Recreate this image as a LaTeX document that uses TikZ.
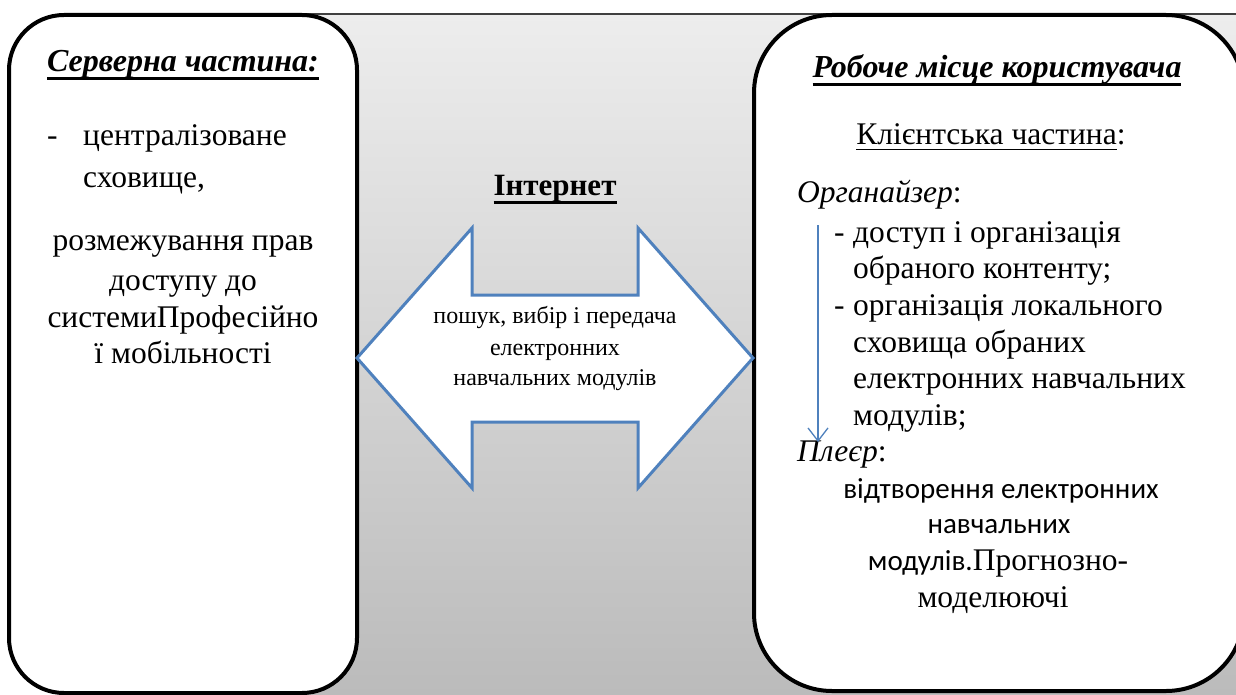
\documentclass[tikz,border=0pt]{standalone}
\usepackage{fontspec}
\setmainfont{Liberation Serif}
\newfontfamily\calibfont{Carlito}
\usetikzlibrary{arrows.meta}
\definecolor{arrblue}{HTML}{4F81BD}
\definecolor{bgtop}{HTML}{EDEDED}
\definecolor{bgbot}{HTML}{BBBBBB}
% underline with a chosen depth and thickness
\newcommand{\ulbar}[3]{{\setbox0\hbox{#3}\rlap{\rule[-#1]{\wd0}{#2}}\box0}}

\begin{document}
\begin{tikzpicture}[x=1pt,y=-1pt,
  panel/.style={draw=black, line width=4pt, fill=white, inner sep=0pt},
  body/.style={font=\fontsize{31.5}{36}\selectfont, inner sep=0pt},
  head/.style={font=\fontsize{32}{36}\selectfont\bfseries\itshape, inner sep=0pt, anchor=base},
  small/.style={font=\fontsize{24}{28}\selectfont, inner sep=0pt, anchor=base},
  sans/.style={font=\fontsize{29}{34}\selectfont\calibfont, inner sep=0pt, anchor=base},
  lw/.style={body, anchor=base west},
  lc/.style={body, anchor=base}]
\useasboundingbox (0,0) rectangle (1236,695);

% grey backdrop with a dark top rule
\shade[top color=bgtop, bottom color=bgbot] (100,14) rectangle (1236,695);
\draw[line width=1.5pt, draw=black!75] (100,14) -- (1236,14);

% the two panels
\node[panel, rounded corners=55pt, minimum width=348pt, minimum height=678pt] (server) at (183,354) {};
\node[panel, rounded corners=78pt, minimum width=490pt, minimum height=676pt] (client) at (999,353) {};

% server side
\node[head] (srvtitle) at (183,72) {\ulbar{8pt}{3pt}{Серверна частина:}};
\node[lw] (srvdash) at (47,146) {-};
\node[lw] (srv1) at (83,146) {централізоване};
\node[lw] (srv2) at (83,188) {сховище,};
\node[lc] (srv3) at (183,250) {розмежування прав};
\node[lc] (srv4) at (183,290) {доступу до};
\node[lc] (srv5) at (183,327) {системиПрофесійно};
\node[lc] (srv6) at (183,363) {ї мобільності};

% internet exchange
\node[font=\fontsize{31}{36}\selectfont\bfseries, inner sep=0pt, anchor=base] (net) at (555,196) {\ulbar{8pt}{3.3pt}{Інтернет}};
\draw[draw=arrblue, line width=3pt, fill=white]
  (357,358) -- (472,228) -- (472,295) -- (638,295) -- (638,228) -- (753,358)
  -- (638,488) -- (638,422) -- (472,422) -- (472,488) -- cycle;
\node[small] (xfer1) at (555,323) {пошук, вибір і передача};
\node[small] (xfer2) at (555,355) {електронних};
\node[small] (xfer3) at (555,385) {навчальних модулів};

% client side
\node[head] (clititle) at (997,78) {\ulbar{8pt}{3pt}{Робоче місце користувача}};
\node[lc] (clipart) at (991,145) {\ulbar{5pt}{1.2pt}{Клієнтська частина}:};
\node[lw] (org) at (797,203) {\textit{Органайзер}:};
\node[lw] (orgdash1) at (834,242) {-};
\node[lw] (org1) at (853,242) {доступ і організація};
\node[lw] (org2) at (853,278) {обраного контенту;};
\node[lw] (orgdash2) at (834,315) {-};
\node[lw] (org3) at (853,315) {організація локального};
\node[lw] (org4) at (853,352) {сховища обраних};
\node[lw] (org5) at (853,388) {електронних навчальних};
\node[lw] (org6) at (853,425) {модулів;};
\node[lw] (player) at (797,461) {\textit{Плеєр}:};
\node[sans] (pl1) at (1001,498) {відтворення електронних};
\node[sans] (pl2) at (999,533) {навчальних};
\node[sans] (pl3) at (998,570) {модулів.{\fontsize{31.5}{36}\selectfont\rmfamily Прогнозно-}};
\node[lc] (pl4) at (993,607) {моделюючі};

% flow from organiser to player
\coordinate (flowtop) at (818,225);
\coordinate (flowend) at (818,442);
\draw[draw=arrblue, line width=1.3pt, -{Straight Barb[length=13pt, width=20pt]}] (flowtop) -- (flowend);
\end{tikzpicture}
\end{document}
